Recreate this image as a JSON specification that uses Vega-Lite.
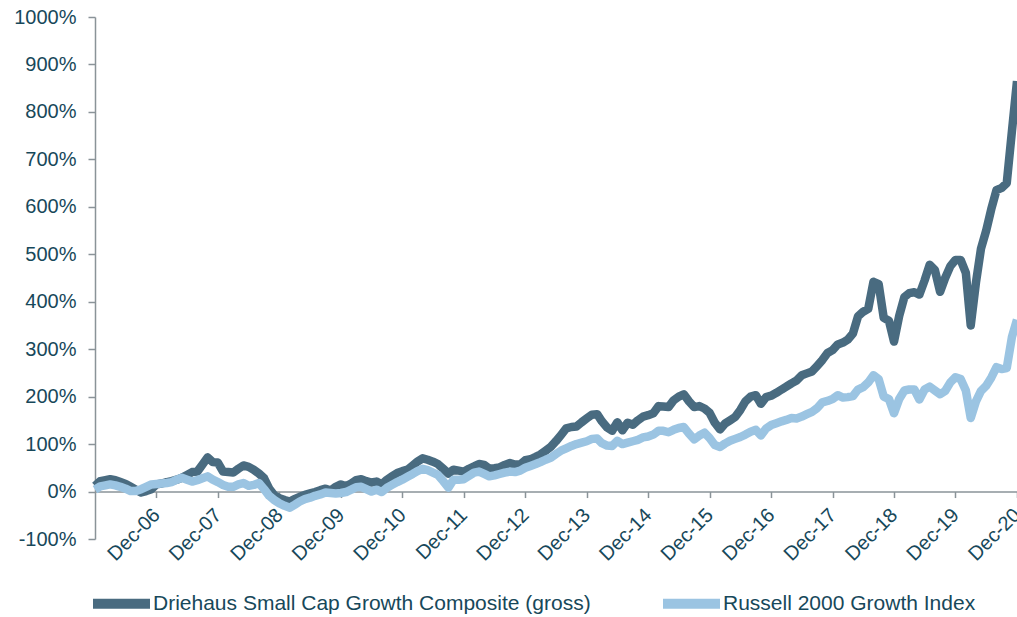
{
  "$schema": "https://vega.github.io/schema/vega-lite/v6.json",
  "autosize": {"type": "none"},
  "width": 922,
  "height": 522,
  "padding": {"left": 95, "top": 17, "right": 0, "bottom": 78},
  "background": "white",
  "config": {"view": {"stroke": null}, "font": "Liberation Sans"},
  "data": {"values": [
    {"date":"2005-12-01","driehaus":12,"russell":4},
    {"date":"2006-01-01","driehaus":22,"russell":11},
    {"date":"2006-02-01","driehaus":24,"russell":13},
    {"date":"2006-03-01","driehaus":26,"russell":15},
    {"date":"2006-04-01","driehaus":24,"russell":13},
    {"date":"2006-05-01","driehaus":20,"russell":10},
    {"date":"2006-06-01","driehaus":16,"russell":6},
    {"date":"2006-07-01","driehaus":10,"russell":1},
    {"date":"2006-08-01","driehaus":4,"russell":1},
    {"date":"2006-09-01","driehaus":-2,"russell":5},
    {"date":"2006-10-01","driehaus":1,"russell":10},
    {"date":"2006-11-01","driehaus":5,"russell":15},
    {"date":"2006-12-01","driehaus":15,"russell":16},
    {"date":"2007-01-01","driehaus":17,"russell":17},
    {"date":"2007-02-01","driehaus":20,"russell":18},
    {"date":"2007-03-01","driehaus":22,"russell":20},
    {"date":"2007-04-01","driehaus":25,"russell":25},
    {"date":"2007-05-01","driehaus":29,"russell":29},
    {"date":"2007-06-01","driehaus":35,"russell":25},
    {"date":"2007-07-01","driehaus":41,"russell":21},
    {"date":"2007-08-01","driehaus":42,"russell":24},
    {"date":"2007-09-01","driehaus":57,"russell":28},
    {"date":"2007-10-01","driehaus":72,"russell":32},
    {"date":"2007-11-01","driehaus":62,"russell":25},
    {"date":"2007-12-01","driehaus":61,"russell":20},
    {"date":"2008-01-01","driehaus":42,"russell":14},
    {"date":"2008-02-01","driehaus":41,"russell":10},
    {"date":"2008-03-01","driehaus":40,"russell":10},
    {"date":"2008-04-01","driehaus":48,"russell":15},
    {"date":"2008-05-01","driehaus":55,"russell":18},
    {"date":"2008-06-01","driehaus":52,"russell":12},
    {"date":"2008-07-01","driehaus":46,"russell":14},
    {"date":"2008-08-01","driehaus":38,"russell":18},
    {"date":"2008-09-01","driehaus":28,"russell":5},
    {"date":"2008-10-01","driehaus":6,"russell":-9},
    {"date":"2008-11-01","driehaus":-8,"russell":-18},
    {"date":"2008-12-01","driehaus":-14,"russell":-25},
    {"date":"2009-01-01","driehaus":-18,"russell":-30},
    {"date":"2009-02-01","driehaus":-21,"russell":-34},
    {"date":"2009-03-01","driehaus":-16,"russell":-28},
    {"date":"2009-04-01","driehaus":-11,"russell":-21},
    {"date":"2009-05-01","driehaus":-7,"russell":-16},
    {"date":"2009-06-01","driehaus":-4,"russell":-13},
    {"date":"2009-07-01","driehaus":-1,"russell":-9},
    {"date":"2009-08-01","driehaus":3,"russell":-6},
    {"date":"2009-09-01","driehaus":6,"russell":-2},
    {"date":"2009-10-01","driehaus":2,"russell":-3},
    {"date":"2009-11-01","driehaus":10,"russell":-4},
    {"date":"2009-12-01","driehaus":15,"russell":-3},
    {"date":"2010-01-01","driehaus":11,"russell":-1},
    {"date":"2010-02-01","driehaus":17,"russell":4},
    {"date":"2010-03-01","driehaus":24,"russell":9},
    {"date":"2010-04-01","driehaus":26,"russell":10},
    {"date":"2010-05-01","driehaus":22,"russell":5},
    {"date":"2010-06-01","driehaus":19,"russell":0},
    {"date":"2010-07-01","driehaus":21,"russell":4},
    {"date":"2010-08-01","driehaus":15,"russell":-1},
    {"date":"2010-09-01","driehaus":25,"russell":8},
    {"date":"2010-10-01","driehaus":32,"russell":14},
    {"date":"2010-11-01","driehaus":39,"russell":20},
    {"date":"2010-12-01","driehaus":43,"russell":25},
    {"date":"2011-01-01","driehaus":46,"russell":31},
    {"date":"2011-02-01","driehaus":55,"russell":37},
    {"date":"2011-03-01","driehaus":63,"russell":43},
    {"date":"2011-04-01","driehaus":70,"russell":48},
    {"date":"2011-05-01","driehaus":67,"russell":45},
    {"date":"2011-06-01","driehaus":63,"russell":40},
    {"date":"2011-07-01","driehaus":58,"russell":35},
    {"date":"2011-08-01","driehaus":48,"russell":22},
    {"date":"2011-09-01","driehaus":38,"russell":8},
    {"date":"2011-10-01","driehaus":46,"russell":25},
    {"date":"2011-11-01","driehaus":44,"russell":25},
    {"date":"2011-12-01","driehaus":42,"russell":26},
    {"date":"2012-01-01","driehaus":48,"russell":33},
    {"date":"2012-02-01","driehaus":53,"russell":40},
    {"date":"2012-03-01","driehaus":58,"russell":42},
    {"date":"2012-04-01","driehaus":56,"russell":37},
    {"date":"2012-05-01","driehaus":48,"russell":32},
    {"date":"2012-06-01","driehaus":49,"russell":34},
    {"date":"2012-07-01","driehaus":51,"russell":37},
    {"date":"2012-08-01","driehaus":56,"russell":40},
    {"date":"2012-09-01","driehaus":60,"russell":42},
    {"date":"2012-10-01","driehaus":57,"russell":41},
    {"date":"2012-11-01","driehaus":57,"russell":44},
    {"date":"2012-12-01","driehaus":66,"russell":50},
    {"date":"2013-01-01","driehaus":68,"russell":54},
    {"date":"2013-02-01","driehaus":73,"russell":58},
    {"date":"2013-03-01","driehaus":78,"russell":62},
    {"date":"2013-04-01","driehaus":86,"russell":67},
    {"date":"2013-05-01","driehaus":94,"russell":71},
    {"date":"2013-06-01","driehaus":106,"russell":79},
    {"date":"2013-07-01","driehaus":119,"russell":86},
    {"date":"2013-08-01","driehaus":133,"russell":91},
    {"date":"2013-09-01","driehaus":136,"russell":96},
    {"date":"2013-10-01","driehaus":137,"russell":100},
    {"date":"2013-11-01","driehaus":146,"russell":103},
    {"date":"2013-12-01","driehaus":154,"russell":106},
    {"date":"2014-01-01","driehaus":162,"russell":111},
    {"date":"2014-02-01","driehaus":163,"russell":112},
    {"date":"2014-03-01","driehaus":148,"russell":102},
    {"date":"2014-04-01","driehaus":135,"russell":97},
    {"date":"2014-05-01","driehaus":128,"russell":96},
    {"date":"2014-06-01","driehaus":146,"russell":107},
    {"date":"2014-07-01","driehaus":129,"russell":100},
    {"date":"2014-08-01","driehaus":145,"russell":103},
    {"date":"2014-09-01","driehaus":141,"russell":106},
    {"date":"2014-10-01","driehaus":150,"russell":109},
    {"date":"2014-11-01","driehaus":158,"russell":114},
    {"date":"2014-12-01","driehaus":161,"russell":116},
    {"date":"2015-01-01","driehaus":165,"russell":120},
    {"date":"2015-02-01","driehaus":180,"russell":128},
    {"date":"2015-03-01","driehaus":179,"russell":128},
    {"date":"2015-04-01","driehaus":178,"russell":125},
    {"date":"2015-05-01","driehaus":192,"russell":130},
    {"date":"2015-06-01","driehaus":200,"russell":134},
    {"date":"2015-07-01","driehaus":205,"russell":136},
    {"date":"2015-08-01","driehaus":190,"russell":122},
    {"date":"2015-09-01","driehaus":178,"russell":110},
    {"date":"2015-10-01","driehaus":180,"russell":118},
    {"date":"2015-11-01","driehaus":175,"russell":124},
    {"date":"2015-12-01","driehaus":166,"russell":113},
    {"date":"2016-01-01","driehaus":145,"russell":98},
    {"date":"2016-02-01","driehaus":131,"russell":94},
    {"date":"2016-03-01","driehaus":143,"russell":101},
    {"date":"2016-04-01","driehaus":150,"russell":107},
    {"date":"2016-05-01","driehaus":157,"russell":111},
    {"date":"2016-06-01","driehaus":172,"russell":115},
    {"date":"2016-07-01","driehaus":190,"russell":120},
    {"date":"2016-08-01","driehaus":200,"russell":126},
    {"date":"2016-09-01","driehaus":203,"russell":130},
    {"date":"2016-10-01","driehaus":185,"russell":118},
    {"date":"2016-11-01","driehaus":199,"russell":133},
    {"date":"2016-12-01","driehaus":202,"russell":140},
    {"date":"2017-01-01","driehaus":208,"russell":144},
    {"date":"2017-02-01","driehaus":215,"russell":148},
    {"date":"2017-03-01","driehaus":221,"russell":151},
    {"date":"2017-04-01","driehaus":228,"russell":155},
    {"date":"2017-05-01","driehaus":234,"russell":154},
    {"date":"2017-06-01","driehaus":245,"russell":158},
    {"date":"2017-07-01","driehaus":249,"russell":163},
    {"date":"2017-08-01","driehaus":253,"russell":168},
    {"date":"2017-09-01","driehaus":265,"russell":176},
    {"date":"2017-10-01","driehaus":277,"russell":188},
    {"date":"2017-11-01","driehaus":292,"russell":191},
    {"date":"2017-12-01","driehaus":298,"russell":195},
    {"date":"2018-01-01","driehaus":310,"russell":203},
    {"date":"2018-02-01","driehaus":314,"russell":198},
    {"date":"2018-03-01","driehaus":320,"russell":199},
    {"date":"2018-04-01","driehaus":333,"russell":201},
    {"date":"2018-05-01","driehaus":369,"russell":215},
    {"date":"2018-06-01","driehaus":379,"russell":220},
    {"date":"2018-07-01","driehaus":385,"russell":230},
    {"date":"2018-08-01","driehaus":442,"russell":245},
    {"date":"2018-09-01","driehaus":437,"russell":237},
    {"date":"2018-10-01","driehaus":366,"russell":200},
    {"date":"2018-11-01","driehaus":360,"russell":195},
    {"date":"2018-12-01","driehaus":316,"russell":165},
    {"date":"2019-01-01","driehaus":370,"russell":195},
    {"date":"2019-02-01","driehaus":410,"russell":213},
    {"date":"2019-03-01","driehaus":418,"russell":215},
    {"date":"2019-04-01","driehaus":420,"russell":215},
    {"date":"2019-05-01","driehaus":415,"russell":194},
    {"date":"2019-06-01","driehaus":445,"russell":215},
    {"date":"2019-07-01","driehaus":478,"russell":221},
    {"date":"2019-08-01","driehaus":467,"russell":213},
    {"date":"2019-09-01","driehaus":421,"russell":205},
    {"date":"2019-10-01","driehaus":450,"russell":212},
    {"date":"2019-11-01","driehaus":475,"russell":230},
    {"date":"2019-12-01","driehaus":488,"russell":241},
    {"date":"2020-01-01","driehaus":488,"russell":237},
    {"date":"2020-02-01","driehaus":461,"russell":213},
    {"date":"2020-03-01","driehaus":350,"russell":155},
    {"date":"2020-04-01","driehaus":440,"russell":190},
    {"date":"2020-05-01","driehaus":512,"russell":212},
    {"date":"2020-06-01","driehaus":550,"russell":223},
    {"date":"2020-07-01","driehaus":595,"russell":240},
    {"date":"2020-08-01","driehaus":635,"russell":262},
    {"date":"2020-09-01","driehaus":640,"russell":258},
    {"date":"2020-10-01","driehaus":650,"russell":260},
    {"date":"2020-11-01","driehaus":760,"russell":326},
    {"date":"2020-12-01","driehaus":865,"russell":362}
  ]},
  "transform": [{"fold": ["driehaus", "russell"], "as": ["series", "value"]}],
  "encoding": {
    "x": {
      "field": "date", "type": "temporal",
      "scale": {"type": "utc", "nice": false, "domain": [
        {"year": 2005, "month": 12, "date": 1, "utc": true},
        {"year": 2020, "month": 12, "date": 1, "utc": true}
      ]},
      "axis": {
        "title": null, "grid": false, "offset": -47.45,
        "values": [
          {"year": 2006, "month": 12, "date": 1, "utc": true},
          {"year": 2007, "month": 12, "date": 1, "utc": true},
          {"year": 2008, "month": 12, "date": 1, "utc": true},
          {"year": 2009, "month": 12, "date": 1, "utc": true},
          {"year": 2010, "month": 12, "date": 1, "utc": true},
          {"year": 2011, "month": 12, "date": 1, "utc": true},
          {"year": 2012, "month": 12, "date": 1, "utc": true},
          {"year": 2013, "month": 12, "date": 1, "utc": true},
          {"year": 2014, "month": 12, "date": 1, "utc": true},
          {"year": 2015, "month": 12, "date": 1, "utc": true},
          {"year": 2016, "month": 12, "date": 1, "utc": true},
          {"year": 2017, "month": 12, "date": 1, "utc": true},
          {"year": 2018, "month": 12, "date": 1, "utc": true},
          {"year": 2019, "month": 12, "date": 1, "utc": true},
          {"year": 2020, "month": 12, "date": 1, "utc": true}
        ],
        "labelExpr": "utcFormat(datum.value, '%b-%y')",
        "labelAngle": -45, "labelAlign": "right", "labelBaseline": "middle",
        "labelPadding": 14, "labelFontSize": 20, "labelColor": "#17485a",
        "labelFont": "Liberation Sans", "labelOverlap": false, "labelBound": false, "labelFlush": false,
        "domainColor": "#8a9398", "domainWidth": 1.5, "tickColor": "#8a9398", "tickWidth": 1.5, "tickSize": 6
      }
    },
    "y": {
      "field": "value", "type": "quantitative",
      "scale": {"domain": [-100, 1000], "nice": false, "zero": false},
      "axis": {
        "title": null, "grid": false,
        "values": [-100, 0, 100, 200, 300, 400, 500, 600, 700, 800, 900, 1000],
        "labelExpr": "datum.value + '%'",
        "labelFontSize": 20, "labelColor": "#17485a", "labelFont": "Liberation Sans",
        "labelPadding": 12, "labelOverlap": false, "labelFlush": false,
        "domainColor": "#8a9398", "domainWidth": 1.5, "tickColor": "#8a9398", "tickWidth": 1.5, "tickSize": 7
      }
    },
    "color": {
      "field": "series", "type": "nominal",
      "scale": {"domain": ["driehaus", "russell"], "range": ["#496b80", "#9bc4e2"]},
      "legend": {
        "title": null, "orient": "none", "direction": "horizontal",
        "legendX": -7, "legendY": 553,
        "symbolType": "stroke", "symbolSize": 3249, "symbolStrokeWidth": 10,
        "labelFontSize": 21, "labelColor": "#17485a", "labelFont": "Liberation Sans",
        "labelOffset": -2, "labelLimit": 0, "columnPadding": 52,
        "labelExpr": "datum.value === 'driehaus' ? 'Driehaus Small Cap Growth Composite (gross)' : 'Russell 2000 Growth Index'"
      }
    }
  },
  "layer": [
    {"transform": [{"filter": "datum.series === 'driehaus'"}], "mark": {"type": "line", "strokeWidth": 8.5, "strokeJoin": "round", "clip": false}},
    {"transform": [{"filter": "datum.series === 'russell'"}], "mark": {"type": "line", "strokeWidth": 8.5, "strokeJoin": "round", "clip": false}}
  ]
}
